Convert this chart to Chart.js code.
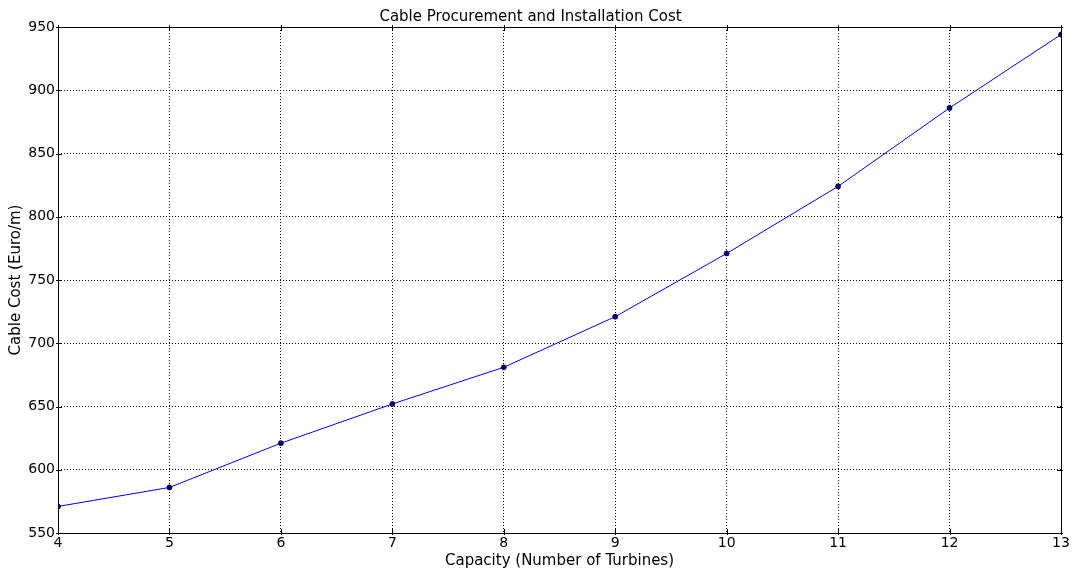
<!DOCTYPE html>
<html>
<head>
<meta charset="utf-8">
<script src="https://cdn.jsdelivr.net/npm/chart.js@4/dist/chart.umd.min.js"></script>
<style>
  html, body { margin: 0; padding: 0; background: #fff; }
  #costChart { display: block; }
</style>
</head>
<body>
<canvas id="costChart" width="1072" height="571"></canvas>
<script>
const turbines = [4, 5, 6, 7, 8, 9, 10, 11, 12, 13];
const cableCost = [571, 586, 621, 652, 681, 721, 771, 824, 886, 944];

const FONT = "'DejaVu Sans', sans-serif";
Chart.defaults.font.family = FONT;
Chart.defaults.color = '#000';

// box round the plot plus inward ticks on every side
const frame = {
    id: 'frame',
    afterDatasetsDraw(chart) {
        const { ctx, chartArea: a, scales } = chart;
        ctx.save();
        ctx.strokeStyle = '#000';
        ctx.lineWidth = 1;
        ctx.beginPath();
        scales.x.ticks.forEach(t => {
            const px = Math.round(scales.x.getPixelForValue(t.value)) + 0.5;
            ctx.moveTo(px, a.bottom + 2); ctx.lineTo(px, a.bottom - 4);
            ctx.moveTo(px, a.top - 2); ctx.lineTo(px, a.top + 4);
        });
        scales.y.ticks.forEach(t => {
            const py = Math.round(scales.y.getPixelForValue(t.value)) + 0.5;
            ctx.moveTo(a.left - 2, py); ctx.lineTo(a.left + 4, py);
            ctx.moveTo(a.right + 2, py); ctx.lineTo(a.right - 4, py);
        });
        ctx.stroke();
        ctx.strokeRect(Math.round(a.left) + 0.5, Math.round(a.top) + 0.5,
            Math.round(a.right - a.left), Math.round(a.bottom - a.top));
        ctx.restore();
    }
};

const dotted = { color: '#000', tickLength: 0, lineWidth: 1 };

new Chart(document.getElementById('costChart'), {
    type: 'line',
    data: {
        datasets: [{
            data: turbines.map((t, i) => ({ x: t, y: cableCost[i] })),
            borderColor: '#0000ff',
            borderWidth: 1,
            pointRadius: 2.6,
            pointBackgroundColor: '#00007f',
            pointBorderColor: '#000',
            pointBorderWidth: 0.5,
            tension: 0,
            clip: 0
        }]
    },
    options: {
        responsive: false,
        animation: false,
        layout: { padding: { top: 0, right: 11, bottom: 0, left: 0 } },
        plugins: {
            legend: { display: false },
            tooltip: { enabled: false },
            title: {
                display: true,
                text: 'Cable Procurement and Installation Cost',
                color: '#000',
                font: { family: FONT, size: 15, weight: 'normal', lineHeight: 1.2 },
                padding: { top: 8, bottom: 1 }
            }
        },
        scales: {
            x: {
                type: 'linear',
                min: 4,
                max: 13,
                afterFit: s => { s.height = 38; },
                ticks: { stepSize: 1, padding: 2, font: { size: 14 } },
                grid: dotted,
                border: { display: false, dash: [1, 2] },
                title: {
                    display: true,
                    text: 'Capacity (Number of Turbines)',
                    font: { size: 15 },
                    padding: { top: 0, bottom: 1 }
                }
            },
            y: {
                min: 550,
                max: 950,
                afterFit: s => { s.width = 58; },
                ticks: { stepSize: 50, padding: 3, font: { size: 14 } },
                grid: dotted,
                border: { display: false, dash: [1, 2] },
                title: {
                    display: true,
                    text: 'Cable Cost (Euro/m)',
                    font: { size: 15 },
                    padding: { top: 7.3, bottom: 0 }
                }
            }
        }
    },
    plugins: [frame]
});
</script>
</body>
</html>
